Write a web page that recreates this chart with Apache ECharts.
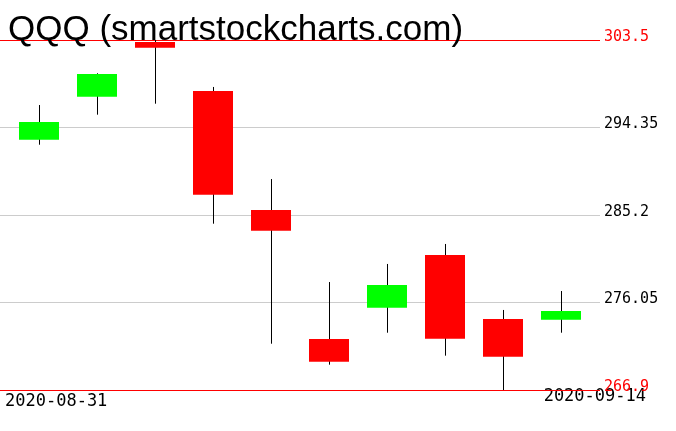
<!DOCTYPE html>
<html><head><meta charset="utf-8">
<script src="https://cdn.jsdelivr.net/npm/echarts@6/dist/echarts.min.js"></script>
<style>html,body{margin:0;padding:0;background:#fff}#c{width:676px;height:431px}</style>
</head><body><div id="c"></div>
<script>
const dates = ['2020-08-31','2020-09-01','2020-09-02','2020-09-03','2020-09-04','2020-09-08','2020-09-09','2020-09-10','2020-09-11','2020-09-14'];
const opens  = [293.07, 297.57, 303.29, 298.17, 285.72, 272.23, 275.51, 281.02, 274.32, 274.25];
const closes = [294.93, 299.94, 302.70, 287.32, 283.56, 269.86, 277.88, 272.26, 270.38, 275.16];
const lows   = [292.55, 295.69, 296.84, 284.29, 271.74, 269.55, 272.89, 270.49, 266.90, 272.89];
const highs  = [296.70, 300.02, 303.50, 298.59, 288.96, 278.19, 280.08, 282.17, 275.27, 277.25];
const yTicks = [266.9, 276.05, 285.2, 294.35, 303.5];

const data = dates.map((d, i) => [i, opens[i], closes[i], lows[i], highs[i]]);
const chart = echarts.init(document.getElementById('c'));
const fmt = v => String(Math.round(v * 100) / 100);
chart.setOption({
  animation: false,
  backgroundColor: '#fff',
  title: {
    text: 'QQQ (smartstockcharts.com)', left: 3, top: 8,
    textStyle: { fontFamily: 'Liberation Sans', fontSize: 35, fontWeight: 'normal', color: '#000' }
  },
  grid: { left: 0, right: 76, top: 40, bottom: 41 },
  xAxis: {
    type: 'value', min: -0.6724, max: 9.6724,
    axisLine: { show: false }, axisTick: { show: false }, axisLabel: { show: false }, splitLine: { show: false }
  },
  yAxis: {
    type: 'value', position: 'right', min: yTicks[0], max: yTicks[yTicks.length - 1], interval: 9.15,
    axisLine: { show: false }, axisTick: { show: false },
    axisLabel: {
      margin: 4, align: 'left', verticalAlign: 'bottom', lineHeight: 6,
      fontFamily: 'DejaVu Sans Mono', fontSize: 15,
      formatter: fmt,
      color: (v) => (Math.abs(v - yTicks[0]) < 0.01 || Math.abs(v - yTicks[4]) < 0.01) ? '#ff0000' : '#000'
    },
    splitLine: { lineStyle: { color: ['#ff0000', '#cccccc', '#cccccc', '#cccccc', '#ff0000'], width: 1 } }
  },
  graphic: [
    { type: 'text', left: 5, top: 393, style: { text: dates[0], fontFamily: 'DejaVu Sans Mono', fontSize: 17, fill: '#000' } },
    { type: 'text', right: 30, top: 388, style: { text: dates[dates.length - 1], fontFamily: 'DejaVu Sans Mono', fontSize: 17, fill: '#000' } }
  ],
  series: [{
    type: 'custom',
    data: data,
    encode: { x: 0, y: [1, 2, 3, 4] },
    renderItem: (params, api) => {
      const x = api.value(0), o = api.value(1), c = api.value(2), l = api.value(3), h = api.value(4);
      const pl = api.coord([x, l]), ph = api.coord([x, h]);
      const po = api.coord([x, o]), pc = api.coord([x, c]);
      const w = api.size([1, 0])[0] * 0.69;
      const cx = Math.round(pl[0]) + 0.5;
      const top = Math.min(po[1], pc[1]), bot = Math.max(po[1], pc[1]);
      const col = c >= o ? '#00ff00' : '#ff0000';
      return {
        type: 'group',
        children: [
          { type: 'line', shape: { x1: cx, y1: ph[1], x2: cx, y2: pl[1] }, style: { stroke: '#000', lineWidth: 1 } },
          { type: 'rect', shape: { x: Math.round(pl[0] - w / 2), y: top, width: Math.round(w), height: Math.max(bot - top, 1) }, style: { fill: col } }
        ]
      };
    }
  }]
});
</script></body></html>
